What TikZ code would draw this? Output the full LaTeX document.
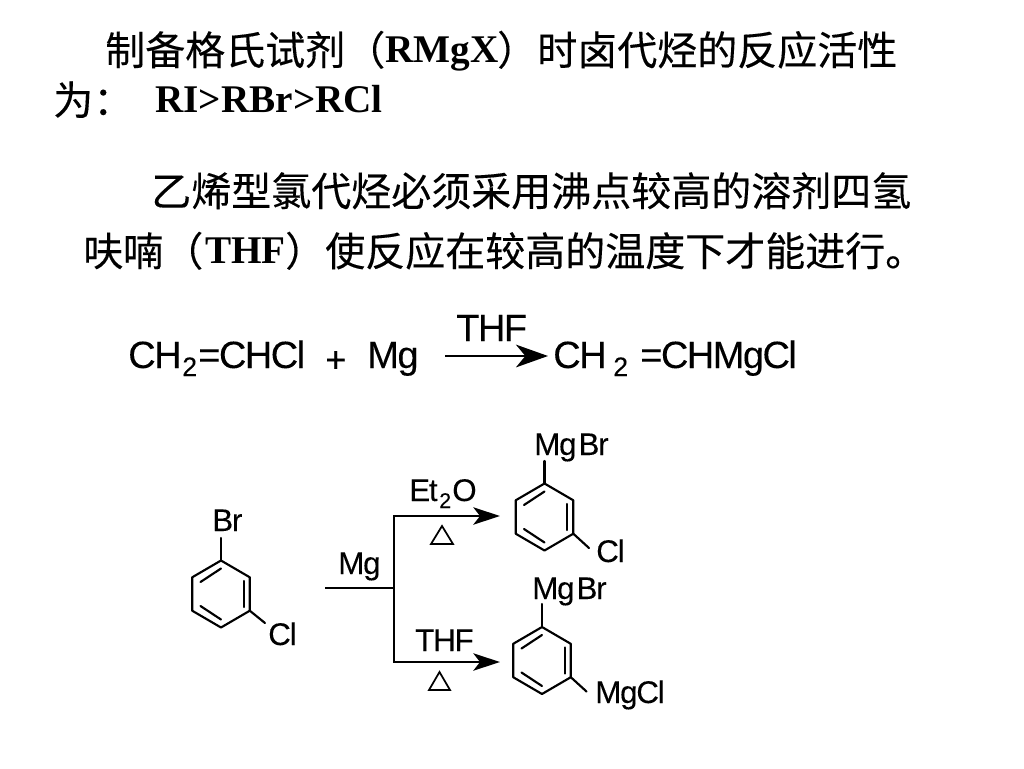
\documentclass[tikz,border=0pt]{standalone}
\usepackage{fontspec}
\setmainfont{Liberation Serif}
\newfontfamily\cjk[FakeBold=0.25]{Noto Sans CJK SC}
\newfontfamily\arialtight[LetterSpace=-4,FakeBold=0.12]{Liberation Sans}
\newfontfamily\arialn[FakeBold=0.12]{Liberation Sans}
\usetikzlibrary{arrows.meta}
\tikzset{
  x=0.75pt,y=-0.75pt,
  cn/.style={anchor=base west,inner sep=0pt,font=\fontsize{30}{30}\selectfont\cjk},
  bold/.style={anchor=base west,inner sep=0pt,font=\fontsize{29.4}{29.4}\selectfont\bfseries},
  eqn/.style={anchor=base west,inner sep=0pt,font=\fontsize{28.5}{28.5}\selectfont\arialtight},
  sub/.style={inner sep=0pt,anchor=base west,font=\fontsize{20}{20}\selectfont\arialn},
  chem/.style={inner sep=0pt,anchor=base west,font=\fontsize{23.5}{23.5}\selectfont\arialtight},
  chemsub/.style={inner sep=0pt,anchor=base west,font=\fontsize{16}{16}\selectfont\arialn},
  bond/.style={line width=1.6pt,line cap=round,line join=round},
  rxn/.style={line width=1.7pt},
  tip/.style={-{Stealth[length=24pt,width=17pt,inset=7pt]}},
  smalltip/.style={-{Stealth[length=20pt,width=13pt,inset=5pt]}},
  heat/.style={line width=1.3pt,line join=miter}
}
\newcommand{\benzring}[3]{%
  \coordinate (#1a) at (#2,#3-33.5);
  \coordinate (#1b) at (#2+28.8,#3-16.7);
  \coordinate (#1c) at (#2+28.8,#3+16.7);
  \coordinate (#1d) at (#2,#3+33.5);
  \coordinate (#1e) at (#2-28.8,#3+16.7);
  \coordinate (#1f) at (#2-28.8,#3-16.7);
  \draw[bond] (#1a)--(#1b)--(#1c)--(#1d)--(#1e)--(#1f)--cycle;
  \draw[bond] (#2+22.7,#3-13)--(#2+22.7,#3+13);
  \draw[bond] (#2-20.5,#3-12)--(#2,#3-25.5);
  \draw[bond] (#2-20.5,#3+12)--(#2,#3+25.5);
}
\begin{document}
\begin{tikzpicture}
\useasboundingbox (0,0) rectangle (1024,768);
\fill[white] (0,0) rectangle (1024,768);
% text lines
\node[cn] (l1a) at (105,65) {制备格氏试剂（};
\node[bold] (l1b) at (385,62) {RMgX};
\node[cn] (l1c) at (497,65) {）时卤代烃的反应活性};
\node[cn] (l2a) at (53,115) {为：};
\node[bold] (l2b) at (155,112) {RI>RBr>RCl};
\node[cn] (l3) at (151,206) {乙烯型氯代烃必须采用沸点较高的溶剂四氢};
\node[cn] (l4a) at (83,266) {呋喃（};
\node[bold] (l4b) at (205,263) {THF};
\node[cn] (l4c) at (285,266) {）使反应在较高的温度下才能进行。};
% equation
\node[eqn] (e1) at (128,368) {CH};
\node[sub] (e2) at (182,376) {2};
\node[eqn] (e3) at (198,368) {=CHCl};
\node[inner sep=0pt,anchor=base west,font=\fontsize{27}{27}\selectfont\arialn] (e4) at (325,372) {+};
\node[eqn] (e5) at (367,368) {Mg};
\node[eqn] (e6) at (456,341) {THF};
\coordinate (as) at (445,356);
\coordinate (ae) at (548,356);
\draw[rxn,tip] (as)--(ae);
\node[eqn] (e7) at (553,368) {CH};
\node[sub] (e8) at (613,376) {2};
\node[eqn] (e9) at (640,368) {=CHMgCl};
% rings
\benzring{p}{221}{594}
\benzring{q}{544.5}{517}
\benzring{r}{542}{660.5}
\node[chem] (br) at (212,531) {Br};
\node[chem] (cl1) at (268,645) {Cl};
\node[chem] (mb1) at (534,455) {Mg\kern1.5pt Br};
\node[chem] (cl2) at (596,562) {Cl};
\node[chem] (mb2) at (532,599) {Mg\kern1.5pt Br};
\node[chem] (mc) at (595,703) {MgCl};
\coordinate (pt) at (221,538);
\coordinate (px) at (265,623);
\coordinate (qt) at (544.5,461);
\coordinate (qx) at (589,548);
\coordinate (rt) at (542,604);
\coordinate (rx) at (586.5,691.5);
\draw[bond] (pa)--(pt);
\draw[bond] (pc)--(px);
\draw[bond] (qa)--(qt);
\draw[bond] (qc)--(qx);
\draw[bond] (ra)--(rt);
\draw[bond] (rc)--(rx);
% reaction scheme
\coordinate (m0) at (325,588);
\coordinate (m1) at (394,588);
\coordinate (v1) at (394,516);
\coordinate (v2) at (394,662);
\coordinate (a1) at (500,516);
\coordinate (a2) at (500,662);
\draw[rxn] (m0)--(m1);
\draw[rxn,line cap=rect] (v1)--(v2);
\draw[rxn,smalltip] (v1)--(a1);
\draw[rxn,smalltip] (v2)--(a2);
\node[chem] (mg) at (338,574) {Mg};
\node[chem] (et) at (409,501) {Et};
\node[chemsub] (et2) at (439,508) {2};
\node[chem] (eto) at (452,501) {O};
\node[chem] (thf) at (415,651) {THF};
\coordinate (t1a) at (431,544);
\coordinate (t1b) at (453,544);
\coordinate (t1c) at (442,526);
\coordinate (t2a) at (429,690);
\coordinate (t2b) at (450,690);
\coordinate (t2c) at (439.5,672);
\draw[heat] (t1a)--(t1b)--(t1c)--cycle;
\draw[heat] (t2a)--(t2b)--(t2c)--cycle;
\end{tikzpicture}
\end{document}
